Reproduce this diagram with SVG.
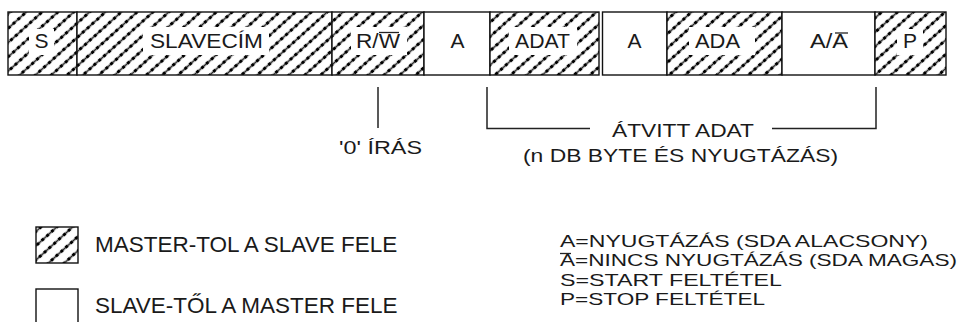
<svg xmlns="http://www.w3.org/2000/svg" width="964" height="322" viewBox="0 0 964 322">
<style>
  text { font-family: "Liberation Sans", Arial, sans-serif; fill: #1a1a1a; }
  .box { stroke: #111; stroke-width: 1.4; }
  .hatch { fill: url(#hatch); }
  .plain { fill: #fff; }
  .clear { fill: #fff; stroke: none; }
  .lbl { font-size: 21px; }
  .note { font-size: 18px; }
  .leg { font-size: 22.5px; }
  .key { font-size: 16.5px; }
  .conn { fill: none; stroke: #222; stroke-width: 1.5; }
  .bar { stroke: #222; stroke-width: 1.3; }
</style>
<defs>
  <pattern id="hatch" patternUnits="userSpaceOnUse" width="10.6" height="6.5" patternTransform="rotate(48)">
    <rect x="0" y="0" width="10.6" height="6.5" fill="#fff"/>
    <line x1="5.3" y1="0" x2="5.3" y2="3.6" stroke="#222" stroke-width="1.6"/>
    <rect x="3.8" y="3.5" width="3" height="3" fill="#000"/>
  </pattern>
</defs>

<g id="frame">
  <g id="node-S">
    <rect class="box hatch" x="8" y="12" width="69" height="63"/>
    <rect class="clear" x="29" y="29" width="25" height="26"/>
    <text class="lbl" x="41.5" y="47.5" text-anchor="middle">S</text>
  </g>
  <g id="node-SLAVECIM">
    <rect class="box hatch" x="77" y="12" width="255" height="63"/>
    <rect class="clear" x="143" y="27" width="126" height="28"/>
    <text class="lbl" x="150" y="48" textLength="113" lengthAdjust="spacingAndGlyphs">SLAVECÍM</text>
  </g>
  <g id="node-RW">
    <rect class="box hatch" x="332" y="12" width="92" height="63"/>
    <rect class="clear" x="351" y="27" width="56" height="28"/>
    <text class="lbl" x="356" y="48" textLength="44" lengthAdjust="spacingAndGlyphs">R/W</text>
    <line class="bar" x1="379" y1="32.5" x2="399" y2="32.5"/>
  </g>
  <g id="node-A1">
    <rect class="box plain" x="424" y="12" width="66" height="63" stroke-width="2"/>
    <text class="lbl" x="457.5" y="48" text-anchor="middle">A</text>
  </g>
  <g id="node-ADAT">
    <rect class="box hatch" x="490" y="12" width="109" height="63" stroke-width="2"/>
    <rect class="clear" x="509" y="27" width="68" height="28"/>
    <text class="lbl" x="515" y="48" textLength="55" lengthAdjust="spacingAndGlyphs">ADAT</text>
  </g>
  <g id="node-A2">
    <rect class="box plain" x="602.5" y="12" width="64.5" height="63"/>
    <text class="lbl" x="634.5" y="48" text-anchor="middle">A</text>
  </g>
  <g id="node-ADA">
    <rect class="box hatch" x="667" y="12" width="115" height="63"/>
    <rect class="clear" x="689" y="27" width="66" height="28"/>
    <text class="lbl" x="695" y="48" textLength="45" lengthAdjust="spacingAndGlyphs">ADA</text>
  </g>
  <g id="node-AnotA">
    <rect class="box plain" x="782" y="12" width="93" height="63"/>
    <text class="lbl" x="810" y="48" textLength="38" lengthAdjust="spacingAndGlyphs">A/A</text>
    <line class="bar" x1="835" y1="33" x2="848" y2="33"/>
  </g>
  <g id="node-P">
    <rect class="box hatch" x="875" y="12" width="71" height="63"/>
    <rect class="clear" x="897" y="29" width="26" height="26"/>
    <text class="lbl" x="910" y="47.5" text-anchor="middle">P</text>
  </g>
</g>

<g id="connectors">
  <line class="conn" x1="378" y1="87" x2="378" y2="128"/>
  <path class="conn" d="M487,87 V128.5 H590"/>
  <path class="conn" d="M772,128.5 H876 V87"/>
</g>

<g id="annotations">
  <text class="note" x="339" y="153.5" font-size="17" textLength="83" lengthAdjust="spacingAndGlyphs">'0' ÍRÁS</text>
  <text class="note" x="612" y="136.5" textLength="142" lengthAdjust="spacingAndGlyphs">ÁTVITT ADAT</text>
  <text class="note" x="523" y="162" textLength="315" lengthAdjust="spacingAndGlyphs">(n DB BYTE ÉS NYUGTÁZÁS)</text>
</g>

<g id="legend-master">
  <rect class="box hatch" x="36" y="227" width="42" height="36"/>
  <text class="leg" x="95" y="251.5">MASTER-TOL A SLAVE FELE</text>
</g>
<g id="legend-slave">
  <rect class="box plain" x="36" y="289" width="42" height="45"/>
  <text class="leg" x="95" y="313">SLAVE-TŐL A MASTER FELE</text>
</g>

<g id="legend-key">
  <text class="key" x="560" y="246.5" textLength="368" lengthAdjust="spacingAndGlyphs">A=NYUGTÁZÁS (SDA ALACSONY)</text>
  <text class="key" x="560" y="266" textLength="397" lengthAdjust="spacingAndGlyphs">A=NINCS NYUGTÁZÁS (SDA MAGAS)</text>
  <line class="bar" x1="560" y1="253.5" x2="571" y2="253.5"/>
  <text class="key" x="560" y="285.5" textLength="222" lengthAdjust="spacingAndGlyphs">S=START FELTÉTEL</text>
  <text class="key" x="560" y="305" textLength="205" lengthAdjust="spacingAndGlyphs">P=STOP FELTÉTEL</text>
</g>
</svg>
